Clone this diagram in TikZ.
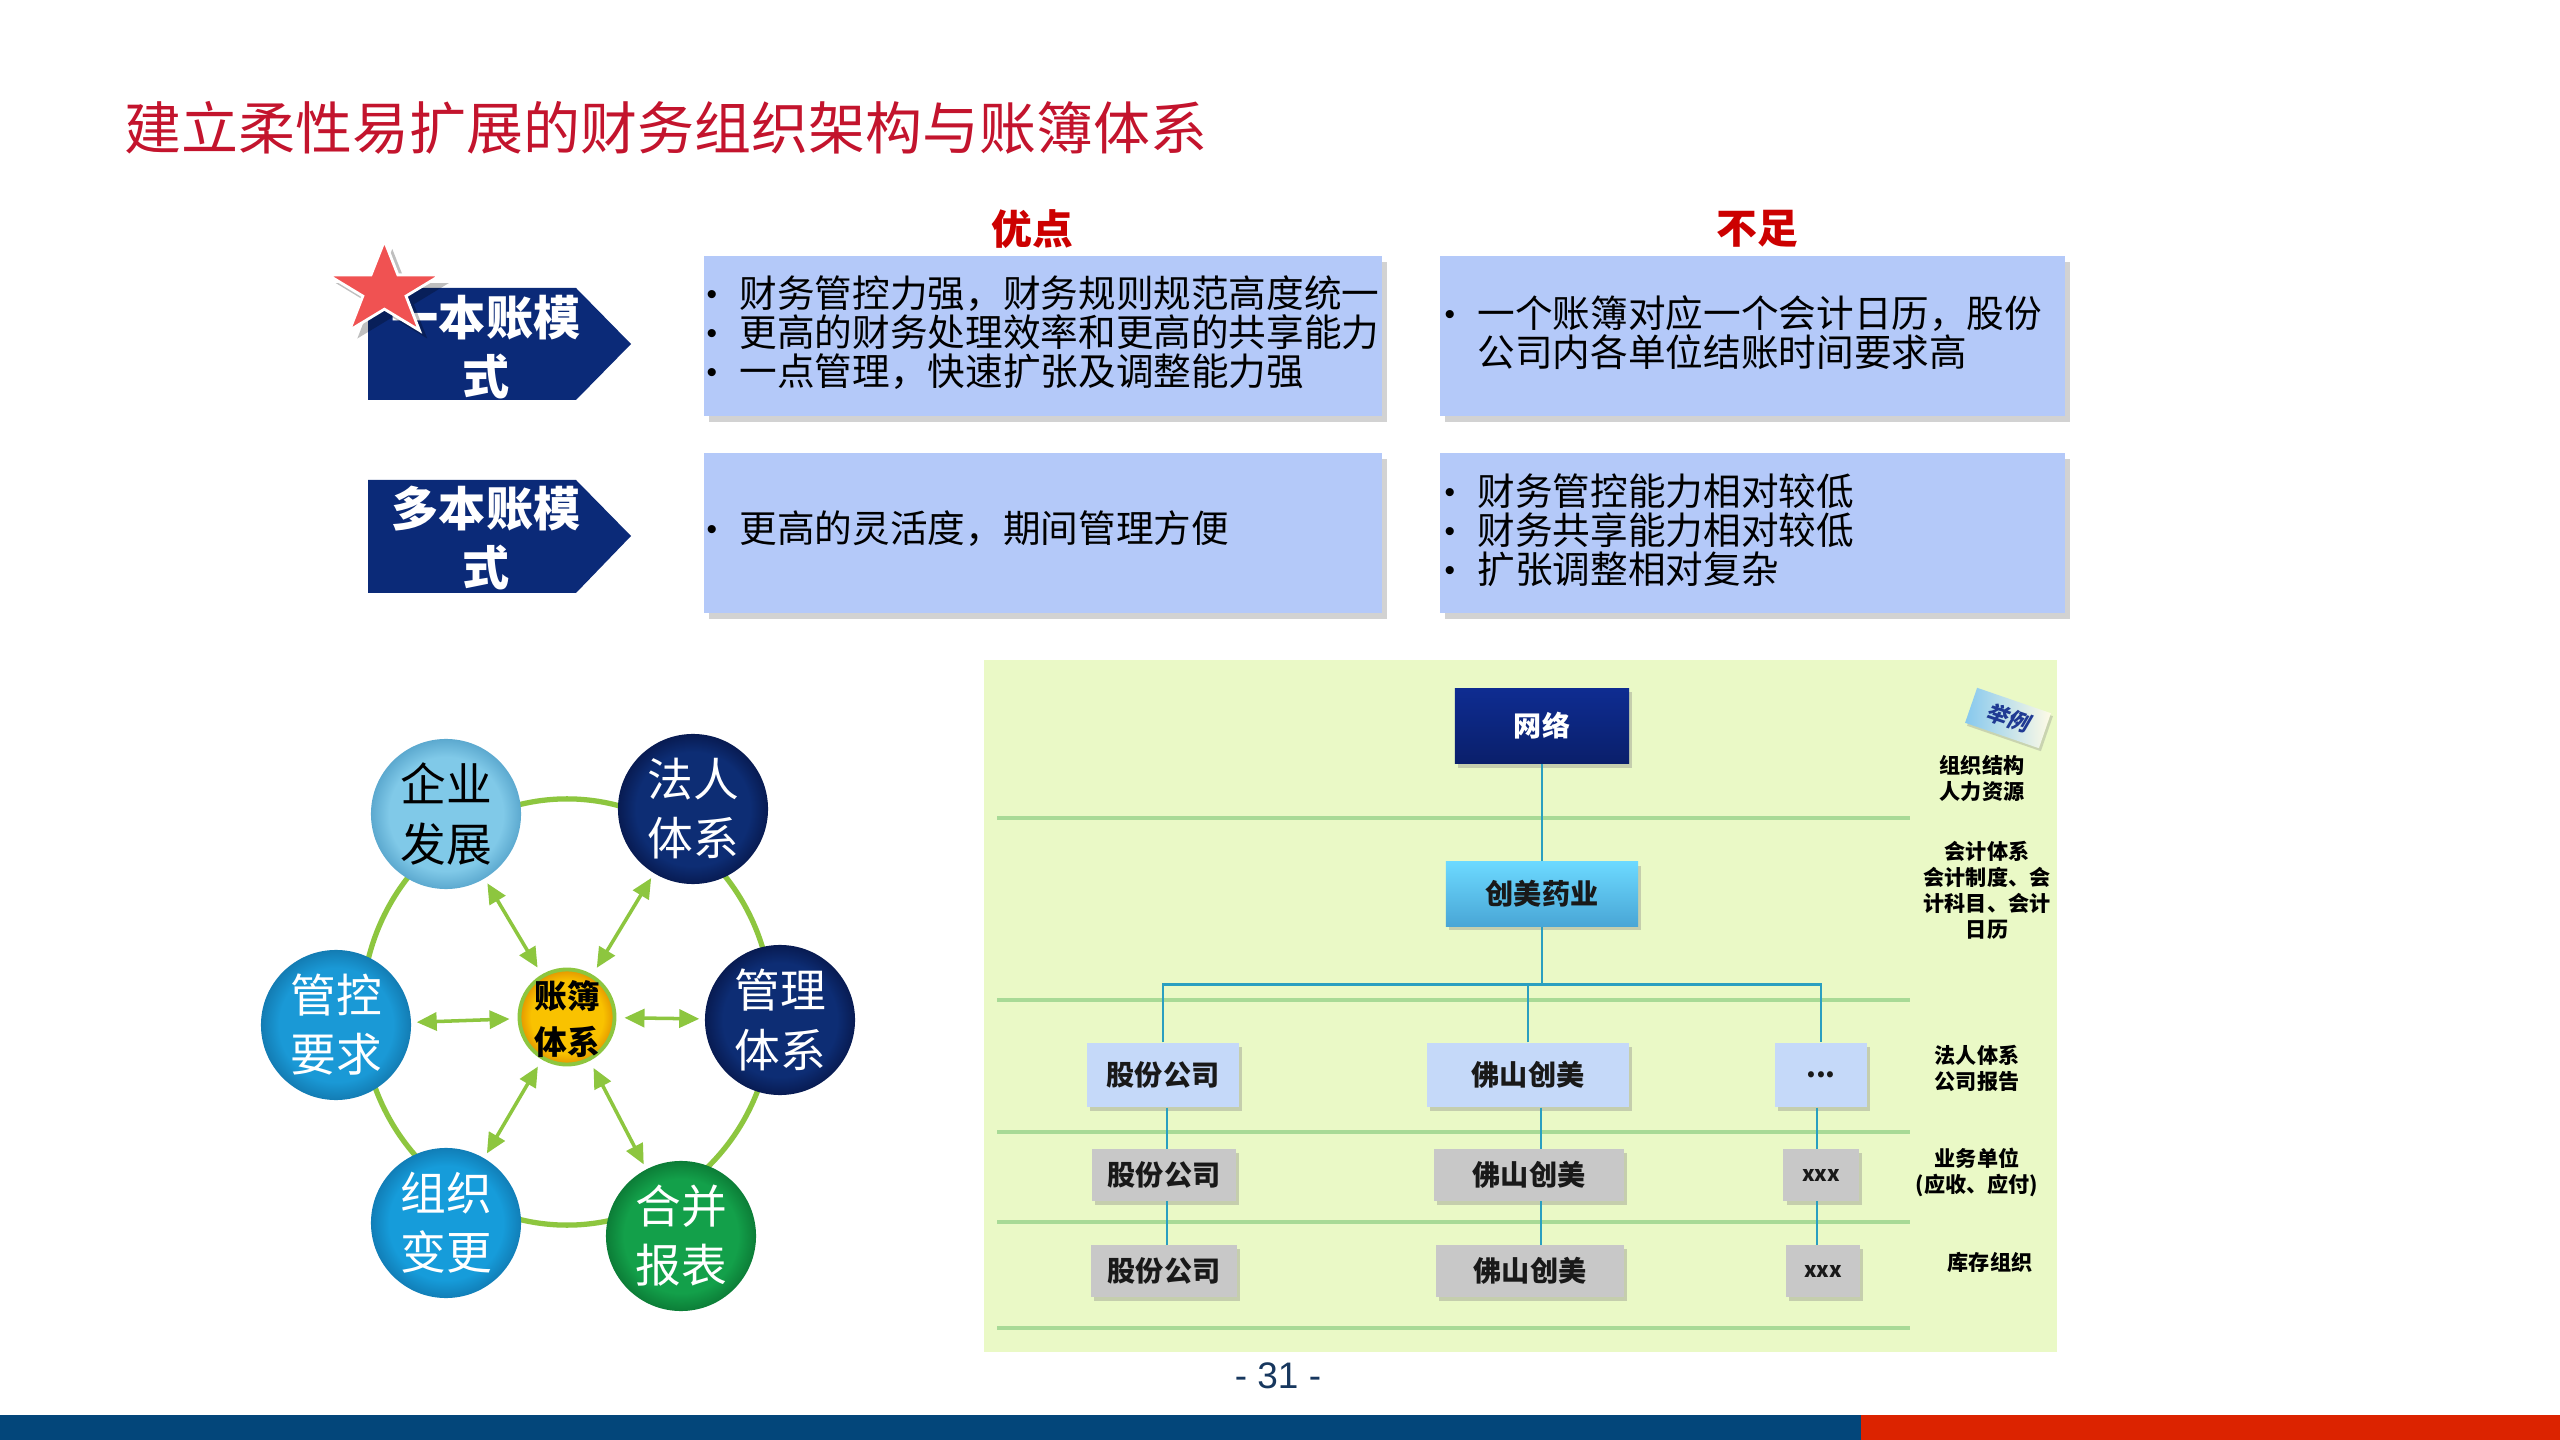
\documentclass[tikz,border=0pt]{standalone}
\usepackage{fontspec}
\setmainfont{Noto Sans CJK SC}
\newfontfamily\latinfont{Liberation Sans}
\newfontfamily\slantcjk[FakeSlant=0.2]{Noto Sans CJK SC}
\usetikzlibrary{shapes.geometric,shadows,arrows.meta,calc}
\definecolor{titlered}{HTML}{C3142D}
\definecolor{hdrred}{HTML}{CC0000}
\definecolor{navy}{HTML}{0B2A78}
\definecolor{boxblue}{HTML}{B4C9F9}
\definecolor{starred}{HTML}{F05252}
\definecolor{ringgreen}{HTML}{8DC63F}
\definecolor{orgbg}{HTML}{EAF9C6}
\definecolor{orgline}{HTML}{A8DA96}
\definecolor{conn}{HTML}{2A9FC0}
\definecolor{netTop}{HTML}{0E2C91}
\definecolor{netBot}{HTML}{0A1F6B}
\definecolor{cmTop}{HTML}{6CD9FF}
\definecolor{cmBot}{HTML}{49A6D6}
\definecolor{rowblue}{HTML}{C5D9F9}
\definecolor{rowgray}{HTML}{C8C8C8}
\definecolor{tagblue}{HTML}{86C8EE}
\definecolor{tagcream}{HTML}{FFFBE6}
\definecolor{tagtext}{HTML}{1F3A93}
\definecolor{pagenum}{HTML}{17375E}
\definecolor{barblue}{HTML}{03467A}
\definecolor{barred}{HTML}{DC2300}
\definecolor{qyin}{HTML}{80C9E8}
\definecolor{qyout}{HTML}{5CA9CF}
\definecolor{nvin}{HTML}{0D2D74}
\definecolor{nvout}{HTML}{081B52}
\definecolor{gkin}{HTML}{1A99D6}
\definecolor{gkout}{HTML}{137CB3}
\definecolor{zzin}{HTML}{169CDA}
\definecolor{zzout}{HTML}{117EB7}
\definecolor{hbin}{HTML}{13A04A}
\definecolor{hbout}{HTML}{0C7D37}
\definecolor{zbin}{HTML}{F9C200}
\definecolor{zbout}{HTML}{E39600}
\colorlet{rimin}{white}
\colorlet{rimout}{black}
\pgfdeclareradialshading[rimin,rimout]{rimshade}{\pgfpoint{0bp}{0bp}}{color(0bp)=(rimin); color(19bp)=(rimin); color(25bp)=(rimout); color(50bp)=(rimout)}
\newcommand{\bul}{\makebox[0.33cm][l]{\raisebox{0.9pt}{\latinfont\fontsize{8.5pt}{8.5pt}\selectfont •}}}
\newcommand{\nobul}{\makebox[0.33cm][l]{}}
\begin{document}
\begin{tikzpicture}[x=0.01cm, y=0.01cm,
  hdr/.style={inner sep=0, text=hdrred, font=\bfseries\fontsize{11.6pt}{13pt}\selectfont},
  probox/.style={fill=boxblue, inner sep=0, minimum height=1.6cm,
    drop shadow={shadow xshift=0.05cm, shadow yshift=-0.06cm, opacity=0.35}},
  boxtxt/.style={anchor=west, inner sep=0, align=left, font=\fontsize{10.7pt}{11.1pt}\selectfont, text=black},
  modetxt/.style={inner sep=0, align=center, text=white, font=\bfseries\fontsize{13.4pt}{17pt}\selectfont},
  circ/.style 2 args={circle, minimum size=1.5cm, inner sep=0, align=center,
    font=\fontsize{13pt}{16.8pt}\selectfont,
    /utils/exec={\colorlet{rimin}{#1}\colorlet{rimout}{#2}}, shading=rimshade},
  garrow/.style={ringgreen, line width=1pt, {Triangle[length=0.2cm,width=0.18cm]}-{Triangle[length=0.2cm,width=0.18cm]}, shorten <=0.08cm, shorten >=0.05cm},
  orgnode/.style={inner sep=0, font=\bfseries\fontsize{8pt}{9pt}\selectfont, text=black!90,
    drop shadow={shadow xshift=0.03cm, shadow yshift=-0.04cm, opacity=0.35}},
  rowa/.style={orgnode, fill=rowblue, minimum height=0.64cm},
  rowb/.style={orgnode, fill=rowgray, minimum height=0.51cm},
  smallx/.style={font=\bfseries\fontsize{6pt}{7pt}\selectfont},
  connline/.style={conn, line width=0.7pt},
  rlab/.style={inner sep=0, align=center, font=\bfseries\fontsize{6pt}{7.4pt}\selectfont, text=black}
]
\useasboundingbox (0,0) rectangle (2560,-1440);
\fill[white] (0,0) rectangle (2560,-1440);

% title
\node[anchor=west, inner sep=0, text=titlered, font=\fontsize{16.2pt}{18pt}\selectfont] (title) at (124,-128) {建立柔性易扩展的财务组织架构与账簿体系};

% headers
\node[hdr] (hpro) at (1032,-229) {优点};
\node[hdr] (hcon) at (1757,-229) {不足};

% mode arrows
\fill[navy] (368,-288) -- (576,-288) -- (631,-344) -- (576,-400) -- (368,-400) -- cycle;
\node[modetxt] (mode1) at (486,-347) {一本账模\\式};
\fill[navy] (368,-480) -- (576,-480) -- (631,-536) -- (576,-593) -- (368,-593) -- cycle;
\node[modetxt] (mode2) at (486,-538) {多本账模\\式};

% star
\begin{scope}[shift={(385,-287)}, scale=1.12]
\fill[black, opacity=0.25] (6.5,34) -- (18.5,3.5) -- (57,3.5) -- (25.8,-15.4) -- (37.7,-46) -- (6.5,-27.1) -- (-24.7,-46) -- (-12.8,-15.4) -- (-44,3.5) -- (-5.5,3.5) -- cycle;
\filldraw[fill=starred, draw=white, line width=0.8pt, line join=miter] (-0.5,41.3) -- (11.5,10.8) -- (50,10.8) -- (18.8,-8.1) -- (30.7,-38.7) -- (-0.5,-19.8) -- (-31.7,-38.7) -- (-19.8,-8.1) -- (-51,10.8) -- (-12.5,10.8) -- cycle;
\end{scope}

% boxes
\node[probox, minimum width=6.78cm] (pa) at (1043,-336) {};
\node[probox, minimum width=6.25cm] (ca) at (1752.5,-336) {};
\node[probox, minimum width=6.78cm] (pb) at (1043,-533) {};
\node[probox, minimum width=6.25cm] (cb) at (1752.5,-533) {};
\node[boxtxt] (pat) at (706,-333) {\bul 财务管控力强，财务规则规范高度统一\\\bul 更高的财务处理效率和更高的共享能力\\\bul 一点管理，快速扩张及调整能力强};
\node[boxtxt] (cat) at (1444,-333) {\bul 一个账簿对应一个会计日历，股份\\\nobul 公司内各单位结账时间要求高};
\node[boxtxt] (pbt) at (706,-529) {\bul 更高的灵活度，期间管理方便};
\node[boxtxt] (cbt) at (1444,-530) {\bul 财务管控能力相对较低\\\bul 财务共享能力相对较低\\\bul 扩张调整相对复杂};

% ring diagram
\draw[ringgreen, line width=1.5pt] (567,-1012) ellipse [x radius=2.05cm, y radius=2.13cm];
\node[circ={qyin}{qyout}, text=black] (qy) at (446,-814) {企业\\发展};
\node[circ={nvin}{nvout}, text=white] (fr) at (693,-809) {法人\\体系};
\node[circ={gkin}{gkout}, text=white] (gk) at (336,-1025) {管控\\要求};
\node[circ={nvin}{nvout}, text=white] (gl) at (780,-1020) {管理\\体系};
\node[circ={zzin}{zzout}, text=white] (zz) at (446,-1223) {组织\\变更};
\node[circ={hbin}{hbout}, text=white] (hb) at (681,-1236) {合并\\报表};
\node[circle, minimum size=0.95cm, inner sep=0, draw=ringgreen, line width=1.1pt,
  /utils/exec={\colorlet{rimin}{zbin}\colorlet{rimout}{zbout}}, shading=rimshade] (zb) at (567,-1017) {};
\node[inner sep=0, align=center, font=\bfseries\fontsize{9.3pt}{13pt}\selectfont, text=black] (zbt) at (567,-1019) {账簿\\体系};
\draw[garrow] (zb) -- (qy);
\draw[garrow] (zb) -- (fr);
\draw[garrow] (zb) -- (gk);
\draw[garrow] (zb) -- (gl);
\draw[garrow] (zb) -- (zz);
\draw[garrow] (zb) -- (hb);

% org chart
\fill[orgbg] (984,-660) rectangle (2057,-1352);
\foreach \yy in {818,1000,1132,1222,1328}
  \draw[orgline, line width=1.2pt] (997,-\yy) -- (1910,-\yy);

\node[orgnode, top color=netTop, bottom color=netBot, text=white, minimum width=1.74cm, minimum height=0.75cm] (net) at (1542,-726) {网络};
\node[orgnode, top color=cmTop, bottom color=cmBot, minimum width=1.92cm, minimum height=0.64cm] (cm) at (1542,-894) {创美药业};
\node[rowa, minimum width=1.52cm] (g1) at (1163,-1075) {股份公司};
\node[rowa, minimum width=2.01cm] (f1) at (1528,-1075) {佛山创美};
\node[rowa, minimum width=0.92cm] (d1) at (1821,-1075) {...};
\node[rowb, minimum width=1.44cm] (g2) at (1164,-1175) {股份公司};
\node[rowb, minimum width=1.89cm] (f2) at (1529,-1175) {佛山创美};
\node[rowb, smallx, minimum width=0.75cm] (x2) at (1821,-1175) {xxx};
\node[rowb, minimum width=1.45cm] (g3) at (1164,-1271) {股份公司};
\node[rowb, minimum width=1.88cm] (f3) at (1530,-1271) {佛山创美};
\node[rowb, smallx, minimum width=0.74cm] (x3) at (1823,-1271) {xxx};

\draw[connline] (net.south) -- (cm.north);
\draw[connline] (cm.south) -- ++(0,-58) coordinate (bus);
\draw[connline] (g1.north) |- (bus) -| (d1.north);
\draw[connline] (f1.north) -- (f1.north |- bus);
\draw[connline] ([xshift=0.04cm]g1.south) -- ([xshift=0.04cm]g1.south |- g2.north);
\draw[connline] ([xshift=0.03cm]g2.south) -- ([xshift=0.03cm]g2.south |- g3.north);
\draw[connline] ([xshift=0.13cm]f1.south) -- ([xshift=0.13cm]f1.south |- f2.north);
\draw[connline] ([xshift=0.12cm]f2.south) -- ([xshift=0.12cm]f2.south |- f3.north);
\draw[connline] ([xshift=-0.04cm]d1.south) -- ([xshift=-0.04cm]d1.south |- x2.north);
\draw[connline] ([xshift=-0.04cm]x2.south) -- ([xshift=-0.04cm]x2.south |- x3.north);

% right labels
\node[rotate=-19, minimum width=0.78cm, minimum height=0.37cm, inner sep=0,
  shading angle=-60, left color=tagblue, right color=tagcream, text=tagtext,
  font=\slantcjk\bfseries\fontsize{6.2pt}{7pt}\selectfont,
  drop shadow={shadow xshift=0.02cm, shadow yshift=-0.03cm, opacity=0.3}] (tag) at (2008,-718) {举例};
\node[rlab] (l1) at (1982,-778) {组织结构\\人力资源};
\node[rlab] (l2) at (1987,-890) {会计体系\\会计制度、会\\计科目、会计\\日历};
\node[rlab] (l3) at (1977,-1068) {法人体系\\公司报告};
\node[rlab] (l4) at (1977,-1172) {业务单位\\(应收、应付)};
\node[rlab] (l5) at (1990,-1262) {库存组织};

% page number and bars
\node[inner sep=0, text=pagenum, font=\latinfont\fontsize{10.5pt}{12pt}\selectfont] (pg) at (1278,-1376) {- 31 -};
\fill[barblue] (0,-1415) rectangle (1861,-1440);
\fill[barred] (1861,-1415) rectangle (2560,-1440);
\end{tikzpicture}
\end{document}
